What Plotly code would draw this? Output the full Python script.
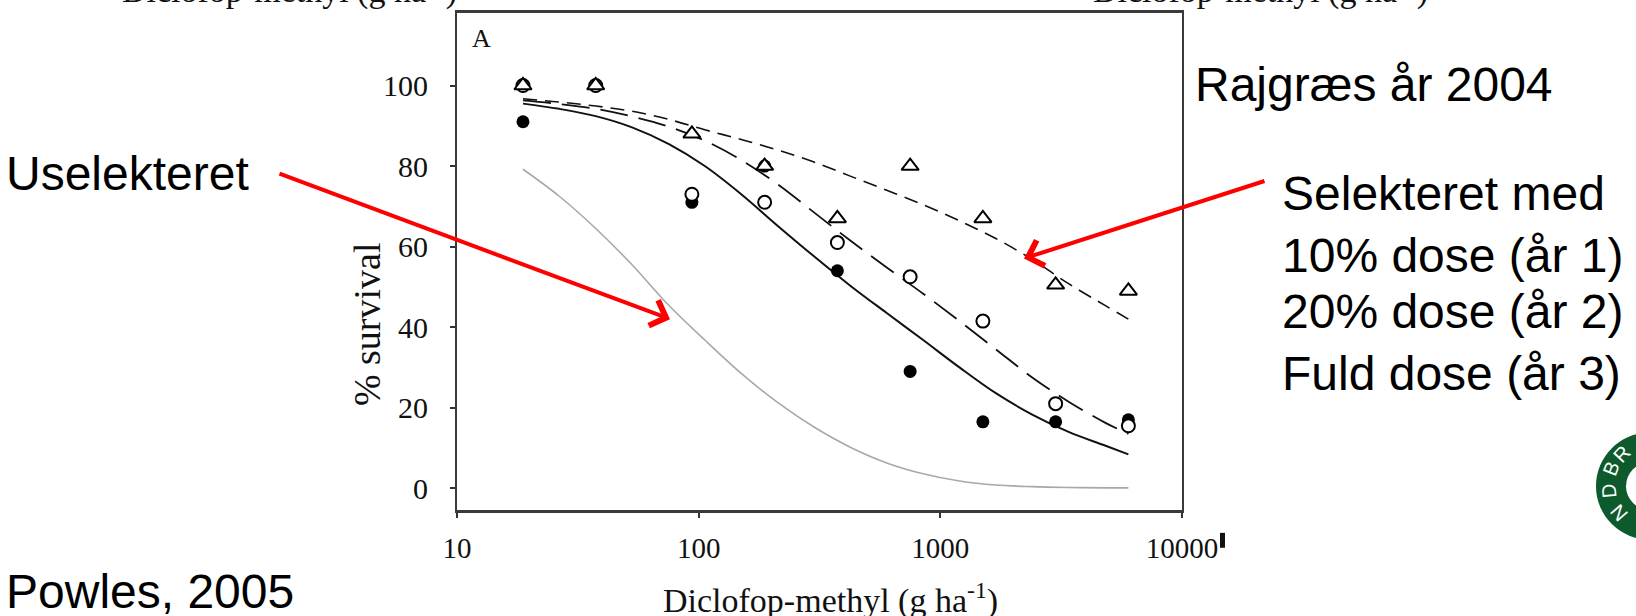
import plotly.graph_objects as go

# ---------------- data ----------------
doses = [18.75, 37.5, 93.75, 187.5, 375, 750, 1500, 3000, 6000]
surv_filled = [91, 100, 71, 80, 54, 29, 16.5, 16.5, 17]      # filled circles
surv_open = [100, 100, 73, 71, 61, 52.5, 41.5, 21, 15.5]     # open circles
surv_tri = [100, 100, 88, 80, 67, 80, 67, 50.5, 49]          # open triangles

# fitted curves
curve_x = [18.75, 26.5, 37.5, 53, 75, 106, 150, 212, 300, 424, 600, 849, 1200, 1697, 2400, 3394, 4800, 6000]
unsel_y = [79.2, 72.5, 64.5, 55.5, 45.5, 36.8, 28.5, 21.3, 15.2, 10.2, 6.3, 3.6, 1.8, 0.8, 0.4, 0.2, 0.1, 0.1]
solid_y = [95.5, 94.2, 92.4, 89.6, 85.5, 80.0, 73.0, 65.2, 57.6, 50.3, 43.5, 36.8, 30.0, 23.6, 18.3, 14.0, 10.6, 8.4]
longd_y = [96.3, 95.4, 94.2, 92.3, 89.8, 86.3, 81.5, 75.5, 68.5, 61.5, 54.8, 48.3, 41.5, 34.5, 27.5, 21.5, 16.3, 13.5]
shortd_y = [96.7, 95.9, 94.9, 93.6, 91.6, 89.0, 86.6, 84.0, 81.0, 77.5, 74.0, 70.4, 66.4, 62.0, 56.8, 50.8, 45.4, 42.0]

x_tickvals = [10, 100, 1000, 10000]
x_ticktext = ["10", "100", "1000", "10000"]
y_tickvals = [0, 20, 40, 60, 80, 100]
y_ticktext = ["0", "20", "40", "60", "80", "100"]

# ---------------- layout geometry (pixels) ----------------
W, H = 1636, 616
L, R, T, B = 457, 1182, 10, 510


def px(x):
    return (x - L) / (R - L)


def py(y):
    return (B - y) / (B - T)


SERIF = "Liberation Serif"
SANS = "Liberation Sans"

fig = go.Figure()

fig.add_trace(go.Scatter(x=curve_x, y=unsel_y, mode="lines", line=dict(color="#a8a8a8", width=1.6, shape="spline"),
                         showlegend=False, hoverinfo="skip"))
fig.add_trace(go.Scatter(x=curve_x, y=solid_y, mode="lines", line=dict(color="#111111", width=2, shape="spline"),
                         showlegend=False, hoverinfo="skip"))
fig.add_trace(go.Scatter(x=curve_x, y=longd_y, mode="lines",
                         line=dict(color="#111111", width=1.8, shape="spline", dash="28px,11px"),
                         showlegend=False, hoverinfo="skip"))
fig.add_trace(go.Scatter(x=curve_x, y=shortd_y, mode="lines",
                         line=dict(color="#111111", width=1.6, shape="spline", dash="14px,8px"),
                         showlegend=False, hoverinfo="skip"))

fig.add_trace(go.Scatter(x=doses, y=surv_filled, mode="markers",
                         marker=dict(symbol="circle", size=13, color="#000000", line=dict(width=0)),
                         showlegend=False))
fig.add_trace(go.Scatter(x=doses, y=surv_open, mode="markers",
                         marker=dict(symbol="circle", size=13, color="white", line=dict(width=2, color="#000000")),
                         showlegend=False))
fig.add_trace(go.Scatter(x=doses, y=surv_tri, mode="markers",
                         marker=dict(symbol="triangle-up", size=15, color="white", line=dict(width=2, color="#000000")),
                         showlegend=False))

fig.update_xaxes(type="log", range=[1, 4], tickvals=x_tickvals, ticktext=x_ticktext,
                 ticks="outside", ticklen=5, tickwidth=1.5, tickcolor="#333",
                 showline=True, linewidth=3, linecolor="#3a3a3a", mirror=True,
                 showgrid=False, zeroline=False,
                 tickfont=dict(family=SERIF, size=29, color="#111"), ticklabelstandoff=5)
fig.update_yaxes(range=[-5.4, 118], tickvals=y_tickvals, ticktext=y_ticktext,
                 ticks="outside", ticklen=5, tickwidth=1.5, tickcolor="#333",
                 showline=True, linewidth=2, linecolor="#3a3a3a", mirror=True,
                 showgrid=False, zeroline=False,
                 tickfont=dict(family=SERIF, size=30, color="#111"), ticklabelstandoff=16)

ann = []
# chart texts
ann.append(dict(x=px(830), y=py(599), xref="paper", yref="paper", showarrow=False,
                text="Diclofop-methyl (g ha<sup>-1</sup>)", font=dict(family=SERIF, size=34, color="#111"),
                xanchor="center", yanchor="middle"))
ann.append(dict(x=px(367), y=py(323), xref="paper", yref="paper", showarrow=False, textangle=-90,
                text="% survival", font=dict(family=SERIF, size=38, color="#111"),
                xanchor="center", yanchor="middle"))
ann.append(dict(x=px(481), y=py(36), xref="paper", yref="paper", showarrow=False,
                text="A", font=dict(family=SERIF, size=26, color="#111"),
                xanchor="center", yanchor="middle"))
# cut-off texts at the very top (from the panel above)
for cx in (289, 1260):
    ann.append(dict(x=px(cx), y=py(-15), xref="paper", yref="paper", showarrow=False,
                    text="Diclofop-methyl (g ha<sup>-1</sup>)", font=dict(family=SERIF, size=34, color="#111"),
                    xanchor="center", yanchor="middle"))
# slide texts
slide = [
    ("Uselekteret", 4, 171),
    ("Rajgræs år 2004", 1193, 82),
    ("Selekteret med", 1280, 192),
    ("10% dose (år 1)", 1280, 254),
    ("20% dose (år 2)", 1280, 310),
    ("Fuld dose (år 3)", 1280, 373),
    ("Powles, 2005", 4, 592),
]
for t, x0, y0 in slide:
    ann.append(dict(x=px(x0), y=py(y0), xref="paper", yref="paper", showarrow=False,
                    text=t, font=dict(family=SANS, size=48, color="#000"),
                    xanchor="left", yanchor="middle"))
# red arrows
for (hx, hy, tx, ty) in [(670, 318, 278, 172), (1024, 257, 1266, 179)]:
    ann.append(dict(x=px(hx), y=py(hy), xref="paper", yref="paper", showarrow=True,
                    ax=tx - hx, ay=ty - hy, axref="pixel", ayref="pixel", text="",
                    arrowhead=4, arrowsize=1.3, arrowwidth=4, arrowcolor="#ff0000",
                    standoff=0, startstandoff=0))
# logo letters
for ch, lx, ly, ang in [("N", 1619, 513, -131), ("D", 1609, 491, -95), ("B", 1611, 469, -69), ("R", 1622, 454, -47)]:
    ann.append(dict(x=px(lx), y=py(ly), xref="paper", yref="paper", showarrow=False, textangle=ang,
                    text=ch, font=dict(family=SANS, size=20, color="white"),
                    xanchor="center", yanchor="middle"))

shapes = [
    dict(type="circle", xref="paper", yref="paper", x0=px(1596), x1=px(1704), y0=py(540), y1=py(432),
         fillcolor="#0d5a2c", line=dict(width=0), layer="below"),
    dict(type="circle", xref="paper", yref="paper", x0=px(1626), x1=px(1674), y0=py(510), y1=py(462),
         fillcolor="white", line=dict(width=0), layer="below"),
    dict(type="rect", xref="paper", yref="paper", x0=px(1220), x1=px(1225), y0=py(548), y1=py(533),
         fillcolor="#111", line=dict(width=0)),
]

fig.update_layout(width=W, height=H, autosize=False,
                  margin=dict(l=L, r=W - R, t=T, b=H - B, pad=0),
                  paper_bgcolor="white", plot_bgcolor="white",
                  annotations=ann, shapes=shapes, showlegend=False)

fig.write_html("out.html")
